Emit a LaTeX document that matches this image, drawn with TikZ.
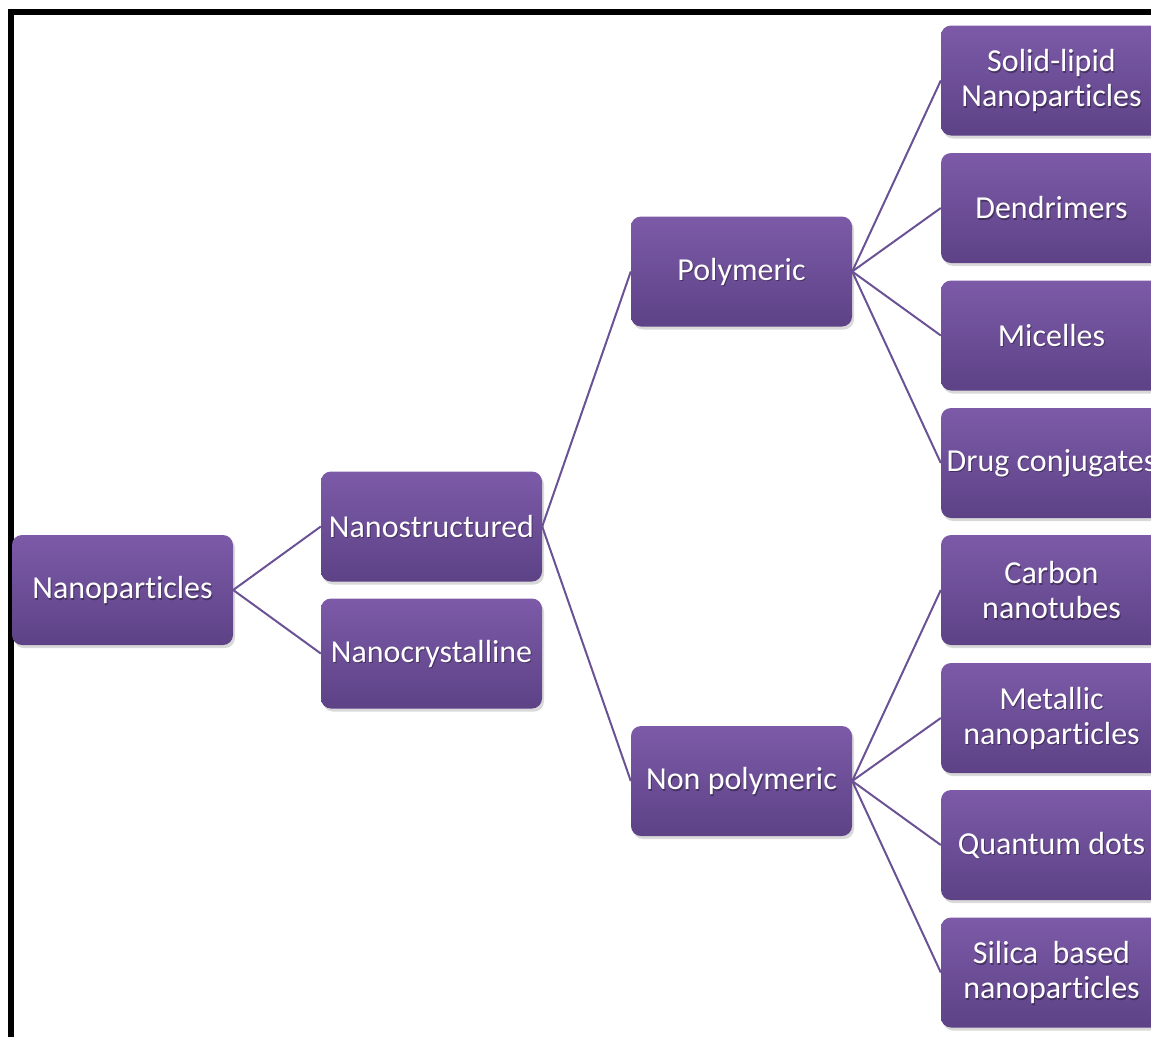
\documentclass[tikz,border=0pt]{standalone}
\usepackage{fontspec}
\setmainfont{Carlito}[Ligatures={NoCommon}]
\usetikzlibrary{shadows}
\definecolor{boxtop}{RGB}{124,90,168}
\definecolor{boxbot}{RGB}{93,66,134}
\definecolor{linkc}{RGB}{106,82,148}
\tikzset{
  catbox/.style={rectangle, rounded corners=10pt, minimum width=221pt, minimum height=110pt,
    top color=boxtop, bottom color=boxbot, draw=none, inner sep=0pt,
    drop shadow={opacity=0.3, shadow xshift=2pt, shadow yshift=-3pt}},
  cattext/.style={text=white, align=center, inner sep=0pt, font=\fontsize{32}{35}\selectfont},
  catshadow/.style={cattext, text=black, text opacity=0.35, xshift=1pt, yshift=-1.5pt},
  link/.style={draw=linkc, line width=2pt},
  frame/.style={draw=black, line width=6pt}
}
\newcommand{\mybox}[3]{%
  \node[catbox] (#1) at (#2) {};
  \node[catshadow] (#1-s) at (#1) {#3};
  \node[cattext] (#1-t) at (#1) {#3};}
\begin{document}
\begin{tikzpicture}[x=1pt,y=-1pt]
\useasboundingbox (0,0) rectangle (1151,1036);
\clip (0,0) rectangle (1151,1036);
\draw[frame] (10.5,12) rectangle (1200,1100);
% nodes
\mybox{np}{122.5,590}{Nanoparticles}
\mybox{ns}{431.5,526.5}{Nanostructured}
\mybox{nc}{431.5,653.5}{Nanocrystalline}
\mybox{poly}{741.5,271.5}{Polymeric}
\mybox{nonpoly}{741.5,781}{Non polymeric}
\mybox{sln}{1051.5,80.5}{Solid-lipid\\Nanoparticles}
\mybox{dend}{1051.5,208}{Dendrimers}
\mybox{mic}{1051.5,335.5}{Micelles}
\mybox{drug}{1051.5,463}{Drug conjugates}
\mybox{cnt}{1051.5,590}{Carbon\\nanotubes}
\mybox{met}{1051.5,718}{Metallic\\nanoparticles}
\mybox{qd}{1051.5,845}{Quantum dots}
\mybox{sil}{1051.5,972.5}{Silica~~based\\nanoparticles}
% connectors
\draw[link] (np.east) -- (ns.west);
\draw[link] (np.east) -- (nc.west);
\draw[link] (ns.east) -- (poly.west);
\draw[link] (ns.east) -- (nonpoly.west);
\foreach \c in {sln,dend,mic,drug} \draw[link] (poly.east) -- (\c.west);
\foreach \c in {cnt,met,qd,sil} \draw[link] (nonpoly.east) -- (\c.west);
\end{tikzpicture}
\end{document}
